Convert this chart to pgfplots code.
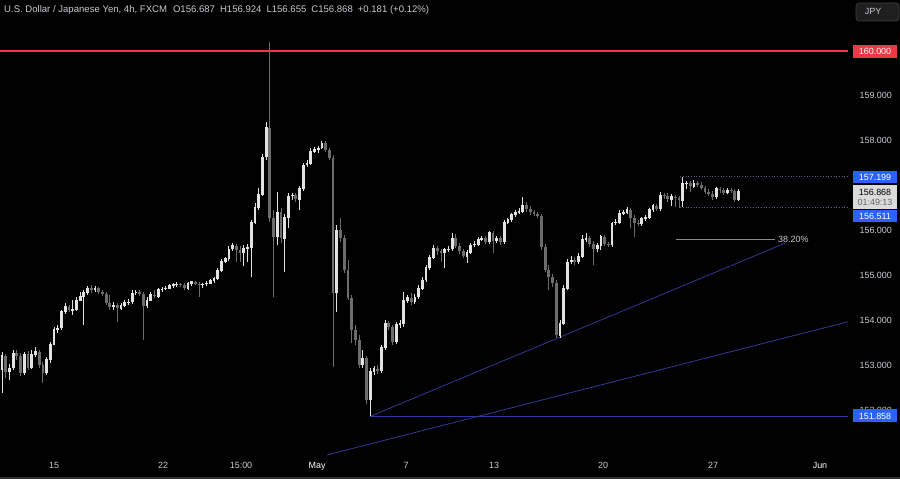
\documentclass[border=0pt]{standalone}
\usepackage{pgfplots}
\pgfplotsset{compat=1.18}
\usepackage{pgfplotstable}
\usepackage{fontspec}
\setmainfont{Liberation Sans}
\definecolor{upc}{HTML}{E2E2E2}
\definecolor{dnc}{HTML}{6C6C6C}
\definecolor{tvred}{HTML}{F23645}
\definecolor{tvblue}{HTML}{2962FF}
\definecolor{navy}{HTML}{2E3A94}
\definecolor{txtc}{HTML}{C9CBD2}
\definecolor{dotc}{HTML}{5A5F7E}
\definecolor{fibc}{HTML}{8A8A8A}
\pgfplotstableread{
i O H L C
0 152.90 153.30 152.38 153.21
1 153.21 153.25 152.71 152.86
2 152.86 153.03 152.67 152.94
3 152.94 153.34 152.90 153.27
4 153.27 153.34 153.12 153.21
5 153.21 153.27 152.76 152.83
6 152.83 153.30 152.78 153.25
7 153.25 153.32 152.90 152.94
8 152.94 153.34 152.92 153.25
9 153.25 153.41 153.18 153.30
10 153.30 153.34 152.94 153.01
11 153.01 153.07 152.60 152.83
12 152.83 153.18 152.78 153.12
13 153.12 153.52 153.05 153.47
14 153.47 153.85 153.45 153.79
15 153.79 153.90 153.72 153.83
16 153.83 154.23 153.79 154.19
17 154.19 154.39 154.14 154.30
18 154.30 154.34 154.19 154.23
19 154.23 154.45 154.12 154.25
20 154.25 154.52 154.21 154.45
21 154.45 154.63 154.43 154.54
22 154.54 154.68 153.90 154.63
23 154.63 154.77 154.57 154.72
24 154.72 154.79 154.61 154.68
25 154.68 154.77 154.63 154.72
26 154.72 154.75 154.59 154.63
27 154.63 154.68 154.54 154.59
28 154.59 154.63 154.34 154.39
29 154.39 154.57 154.23 154.30
30 154.30 154.41 154.23 154.34
31 154.34 154.39 153.97 154.27
32 154.27 154.39 154.23 154.34
33 154.34 154.45 154.30 154.39
34 154.39 154.48 154.34 154.41
35 154.41 154.68 154.37 154.61
36 154.61 154.68 154.57 154.63
37 154.63 154.68 154.54 154.59
38 154.59 154.63 153.56 154.32
39 154.32 154.52 154.27 154.45
40 154.45 154.63 154.43 154.57
41 154.57 154.68 154.50 154.54
42 154.54 154.72 154.50 154.68
43 154.68 154.75 154.63 154.70
44 154.70 154.77 154.68 154.72
45 154.72 154.81 154.70 154.77
46 154.77 154.83 154.72 154.79
47 154.79 154.86 154.75 154.81
48 154.81 154.83 154.75 154.79
49 154.79 154.83 154.68 154.72
50 154.72 154.86 154.68 154.83
51 154.83 154.88 154.77 154.86
52 154.86 154.88 154.79 154.81
53 154.81 154.86 154.52 154.79
54 154.79 154.83 154.72 154.81
55 154.81 154.88 154.77 154.83
56 154.83 154.92 154.81 154.88
57 154.88 154.97 154.83 154.94
58 154.94 155.17 154.90 155.12
59 155.12 155.37 155.08 155.32
60 155.32 155.41 155.28 155.37
61 155.37 155.66 155.32 155.59
62 155.59 155.72 155.55 155.66
63 155.66 155.70 155.30 155.57
64 155.57 155.66 155.30 155.50
65 155.50 155.68 155.21 155.61
66 155.61 155.70 155.30 155.63
67 155.63 156.24 154.96 156.19
68 156.19 156.61 156.15 156.52
69 156.52 156.95 156.46 156.81
70 156.81 157.71 156.77 157.64
71 157.64 158.42 157.57 158.29
72 158.29 160.20 156.19 156.28
73 156.28 156.46 154.52 155.86
74 155.86 156.86 155.68 156.41
75 156.41 156.50 155.72 155.83
76 155.83 156.37 155.08 156.30
77 156.30 156.84 156.06 156.77
78 156.77 156.84 156.68 156.79
79 156.79 156.84 156.64 156.70
80 156.70 157.00 156.46 156.93
81 156.93 157.50 156.88 157.46
82 157.46 157.57 157.42 157.50
83 157.50 157.84 157.46 157.77
84 157.77 157.86 157.73 157.80
85 157.80 157.88 157.73 157.84
86 157.84 157.99 157.82 157.95
87 157.95 157.99 157.75 157.80
88 157.80 157.84 157.57 157.62
89 157.62 157.68 152.96 154.61
90 154.61 156.12 154.19 156.01
91 156.01 156.28 155.75 155.83
92 155.83 155.90 155.05 155.12
93 155.12 155.34 154.45 154.50
94 154.50 154.57 153.50 153.79
95 153.79 153.90 153.45 153.56
96 153.56 153.67 152.94 153.01
97 153.01 153.34 152.94 153.16
98 153.16 153.21 152.14 152.23
99 152.23 152.94 151.86 152.86
100 152.86 152.99 152.78 152.92
101 152.92 153.01 152.81 152.88
102 152.88 153.45 152.83 153.39
103 153.39 154.01 153.34 153.94
104 153.94 153.99 153.79 153.85
105 153.85 153.90 153.45 153.52
106 153.52 153.97 153.47 153.90
107 153.90 154.01 153.83 153.94
108 153.94 154.63 153.85 154.45
109 154.45 154.57 154.39 154.50
110 154.50 154.61 154.34 154.41
111 154.41 154.59 154.37 154.52
112 154.52 154.79 154.48 154.72
113 154.72 154.97 154.68 154.90
114 154.90 155.23 154.86 155.17
115 155.17 155.46 155.12 155.41
116 155.41 155.68 155.37 155.61
117 155.61 155.66 155.46 155.55
118 155.55 155.59 155.30 155.50
119 155.50 155.61 155.17 155.57
120 155.57 155.66 155.52 155.59
121 155.59 155.95 155.55 155.83
122 155.83 155.93 155.61 155.66
123 155.66 155.72 155.48 155.55
124 155.55 155.59 155.39 155.43
125 155.43 155.57 155.28 155.52
126 155.52 155.72 155.48 155.68
127 155.68 155.77 155.63 155.70
128 155.70 155.86 155.66 155.81
129 155.81 155.88 155.77 155.83
130 155.83 155.88 155.70 155.75
131 155.75 155.99 155.70 155.95
132 155.95 155.99 155.50 155.77
133 155.77 155.88 155.72 155.83
134 155.83 155.88 155.68 155.75
135 155.75 156.24 155.70 156.19
136 156.19 156.28 156.15 156.24
137 156.24 156.39 156.19 156.35
138 156.35 156.46 156.30 156.41
139 156.41 156.50 156.37 156.43
140 156.43 156.75 156.39 156.57
141 156.57 156.64 156.41 156.48
142 156.48 156.55 156.35 156.41
143 156.41 156.46 156.33 156.37
144 156.37 156.41 156.28 156.33
145 156.33 156.37 155.57 155.63
146 155.63 155.70 155.08 155.12
147 155.12 155.23 154.68 154.97
148 154.97 155.03 154.74 154.83
149 154.83 154.90 153.61 153.67
150 153.67 154.01 153.61 153.94
151 153.94 154.79 153.90 154.72
152 154.72 155.37 154.68 155.30
153 155.30 155.43 155.26 155.34
154 155.34 155.41 155.23 155.30
155 155.30 155.50 155.26 155.43
156 155.43 155.90 155.39 155.81
157 155.81 155.95 155.75 155.83
158 155.83 155.88 155.63 155.70
159 155.70 155.77 155.23 155.59
160 155.59 155.72 155.52 155.66
161 155.66 155.90 155.57 155.86
162 155.86 155.90 155.66 155.70
163 155.70 155.75 155.63 155.68
164 155.68 156.19 155.63 156.17
165 156.17 156.26 156.12 156.19
166 156.19 156.46 156.15 156.39
167 156.39 156.46 156.35 156.41
168 156.41 156.53 156.37 156.46
169 156.46 156.50 156.06 156.28
170 156.28 156.35 155.86 156.17
171 156.17 156.24 156.10 156.15
172 156.15 156.30 156.10 156.26
173 156.26 156.35 156.21 156.30
174 156.30 156.50 156.26 156.46
175 156.46 156.59 156.41 156.55
176 156.55 156.59 156.43 156.48
177 156.48 156.86 156.43 156.79
178 156.79 156.84 156.70 156.77
179 156.77 156.84 156.64 156.70
180 156.70 156.81 156.55 156.75
181 156.75 156.79 156.53 156.73
182 156.73 156.77 156.51 156.68
183 156.68 157.20 156.52 157.04
184 157.04 157.10 156.93 157.06
185 157.06 157.10 156.86 156.99
186 156.99 157.13 156.95 157.06
187 157.06 157.10 156.97 157.01
188 157.01 157.08 156.90 156.95
189 156.95 157.00 156.81 156.86
190 156.86 156.93 156.77 156.81
191 156.81 156.88 156.68 156.75
192 156.75 156.97 156.70 156.93
193 156.93 156.97 156.84 156.90
194 156.90 156.95 156.79 156.84
195 156.84 156.95 156.81 156.90
196 156.90 156.95 156.84 156.88
197 156.88 156.93 156.64 156.69
198 156.687 156.924 156.655 156.868
}\usdjpy
\begin{document}
\begin{tikzpicture}[x=1bp,y=1bp]
\fill[black] (0,0) rectangle (900,479);
\fill[black!82!white] (0,0) rectangle (900,2);
\begin{axis}[
  at={(0bp,24bp)}, anchor=south west,
  scale only axis, width=848bp, height=455bp,
  xmin=-0.538, xmax=227.42,
  ymin=151.002, ymax=161.136,
  clip=false,
  axis line style={draw=none},
  major tick length=0pt,
  tick style={draw=none},
  xtick={13.98,43.28,64.25,84.68,108.60,132.26,161.56,191.13,219.89},
  xticklabels={15,22,15:00,\textcolor{white}{May},7,13,20,27,\textcolor{white}{Jun}},
  xticklabel style={font=\fontsize{9}{10}\selectfont, text=txtc, anchor=base, yshift=-14bp},
  ytick={152,153,154,155,156,158,159},
  yticklabels={152.000,153.000,154.000,155.000,156.000,158.000,159.000},
  yticklabel pos=right,
  yticklabel style={font=\fontsize{9}{10}\selectfont, text=txtc, anchor=west, xshift=8bp},
]
% price level line
\addplot[draw=tvred, color=tvred, line width=1.1bp, forget plot] coordinates {(-0.538,160) (227.42,160)};
% trend lines and horizontal support
\addplot[draw=navy, line width=0.8bp, forget plot] coordinates {(98.92,151.86) (210.48,155.72)};
\addplot[draw=navy, line width=0.8bp, forget plot] coordinates {(87.37,151.002) (227.42,153.97)};
\addplot[draw=navy, line width=0.8bp, forget plot] coordinates {(98.92,151.858) (227.42,151.858)};
% dotted range
\addplot[draw=dotc, dotted, line width=0.7bp, forget plot] coordinates {(182.3,157.199) (227.42,157.199)};
\addplot[draw=dotc, dotted, line width=0.7bp, forget plot] coordinates {(182.3,156.511) (227.42,156.511)};
% fib 38.2
\addplot[draw=fibc, line width=0.6bp, forget plot] coordinates {(181.2,155.81) (207.8,155.81)};
% wicks
\addplot[draw=none, mark=none, forget plot,
  error bars/.cd, y dir=plus, y explicit, error mark=none,
  error bar style={draw=upc, line width=0.9bp}]
  table[x=i, y expr={\thisrow{C}>=\thisrow{O} ? \thisrow{L} : nan}, y error plus expr={\thisrow{H}-\thisrow{L}}] {\usdjpy};
\addplot[draw=none, mark=none, forget plot,
  error bars/.cd, y dir=plus, y explicit, error mark=none,
  error bar style={draw=dnc, line width=0.9bp}]
  table[x=i, y expr={\thisrow{C}<\thisrow{O} ? \thisrow{L} : nan}, y error plus expr={\thisrow{H}-\thisrow{L}}] {\usdjpy};
% bodies
\addplot[draw=none, mark=none, forget plot,
  error bars/.cd, y dir=plus, y explicit, error mark=none,
  error bar style={draw=upc, line width=2.8bp}]
  table[x=i, y expr={\thisrow{C}>=\thisrow{O} ? \thisrow{O}-0.01 : nan}, y error plus expr={max(\thisrow{C}-\thisrow{O},0.0)+0.02}] {\usdjpy};
\addplot[draw=none, mark=none, forget plot,
  error bars/.cd, y dir=plus, y explicit, error mark=none,
  error bar style={draw=dnc, line width=2.8bp}]
  table[x=i, y expr={\thisrow{C}<\thisrow{O} ? \thisrow{C} : nan}, y error plus expr={\thisrow{O}-\thisrow{C}}] {\usdjpy};
\end{axis}
% 38.20% label
\node[anchor=west, inner sep=0pt, text=txtc, font=\fontsize{9}{10}\selectfont] at (778,240) {38.20\%};
% title
\node[anchor=west, inner sep=0pt, text=txtc, font=\fontsize{9.6}{11}\selectfont] at (4,469)
  {U.S. Dollar / Japanese Yen, 4h, FXCM\hspace{6bp}O156.687\hspace{5bp}H156.924\hspace{5bp}L156.655\hspace{5bp}C156.868\hspace{5bp}+0.181 (+0.12\%)};
% JPY button
\draw[rounded corners=3bp, fill=black!88!white, draw=black!75!white, line width=0.6bp] (856,458) rectangle (899,476);
\node[text=txtc, font=\fontsize{9}{10}\selectfont, inner sep=0pt] at (873,467.5) {JPY};
% price labels on the right scale
\fill[tvred] (853,421) rectangle (897,434);
\node[text=white, font=\fontsize{9}{10}\selectfont, inner sep=0pt] at (875,427.5) {160.000};
\fill[tvblue] (853,296) rectangle (897,308);
\node[text=white, font=\fontsize{9}{10}\selectfont, inner sep=0pt] at (875,302) {157.199};
\fill[black!14!white] (853,270) rectangle (897,294);
\node[text=black, font=\fontsize{9}{10}\selectfont, inner sep=0pt] at (875,287) {156.868};
\node[text=black!60!white, font=\fontsize{9}{10}\selectfont, inner sep=0pt] at (875,276.5) {01:49:13};
\fill[tvblue] (853,257) rectangle (897,269);
\node[text=white, font=\fontsize{9}{10}\selectfont, inner sep=0pt] at (875,263) {156.511};
\fill[tvblue] (853,56.5) rectangle (897,69.5);
\node[text=white, font=\fontsize{9}{10}\selectfont, inner sep=0pt] at (875,63) {151.858};
\pgfresetboundingbox
\path[use as bounding box] (0,0) rectangle (900,479);
\end{tikzpicture}
\end{document}
